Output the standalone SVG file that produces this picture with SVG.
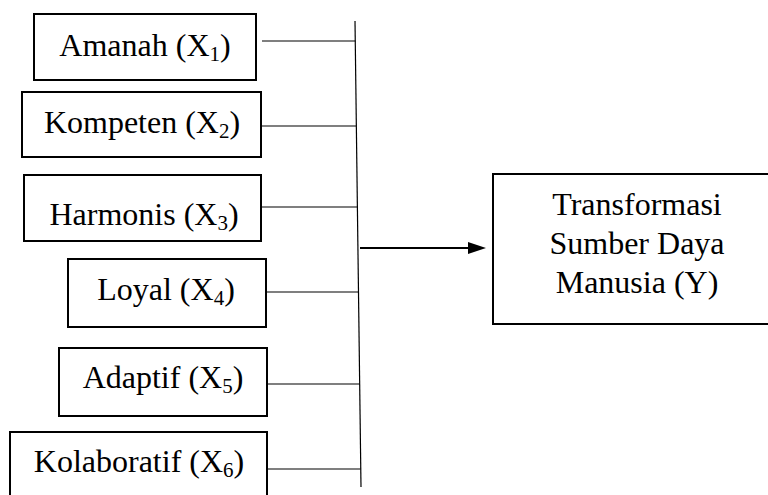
<svg xmlns="http://www.w3.org/2000/svg" width="768" height="495" viewBox="0 0 768 495">
  <defs>
    <style>
      .box { fill: #fff; stroke: #000; stroke-width: 2; }
      .lbl { font-size: 32px; fill: #000; text-anchor: middle; }
      .sub { font-size: 21px; }
      .ln { stroke: #000; stroke-width: 1.2; fill: none; }
    </style>
  </defs>
  <rect width="768" height="495" fill="#fff"/>

  <g id="connectors">
    <line class="ln" x1="355" y1="21" x2="361" y2="487"/>
    <line class="ln" x1="262" y1="41" x2="355.3" y2="41"/>
    <line class="ln" x1="262" y1="126" x2="356.4" y2="126"/>
    <line class="ln" x1="262" y1="207" x2="357.5" y2="207"/>
    <line class="ln" x1="266" y1="292" x2="358.5" y2="292"/>
    <line class="ln" x1="267" y1="384" x2="359.6" y2="384"/>
    <line class="ln" x1="267" y1="469" x2="360.7" y2="469"/>
    <line x1="360" y1="248" x2="468" y2="248" stroke="#000" stroke-width="2"/>
    <path d="M468,242 L486,248 L468,254 Z" fill="#000"/>
  </g>

  <g font-family="'Liberation Serif', 'DejaVu Serif', serif">
  <g id="x1">
    <rect class="box" x="34" y="14" width="222" height="66"/>
    <text class="lbl" x="145" y="56">Amanah (X<tspan class="sub" dy="5">1</tspan><tspan dy="-5">)</tspan></text>
  </g>
  <g id="x2">
    <rect class="box" x="22" y="92" width="239" height="65"/>
    <text class="lbl" x="142" y="133">Kompeten (X<tspan class="sub" dy="5">2</tspan><tspan dy="-5">)</tspan></text>
  </g>
  <g id="x3">
    <rect class="box" x="24" y="175" width="237" height="66"/>
    <text class="lbl" x="144" y="225">Harmonis (X<tspan class="sub" dy="5">3</tspan><tspan dy="-5">)</tspan></text>
  </g>
  <g id="x4">
    <rect class="box" x="68" y="259" width="198" height="68"/>
    <text class="lbl" x="166" y="300">Loyal (X<tspan class="sub" dy="5">4</tspan><tspan dy="-5">)</tspan></text>
  </g>
  <g id="x5">
    <rect class="box" x="59" y="348" width="208" height="68"/>
    <text class="lbl" x="163" y="388">Adaptif (X<tspan class="sub" dy="5">5</tspan><tspan dy="-5">)</tspan></text>
  </g>
  <g id="x6">
    <rect class="box" x="10" y="432" width="257" height="80"/>
    <text class="lbl" x="139" y="472">Kolaboratif (X<tspan class="sub" dy="5">6</tspan><tspan dy="-5">)</tspan></text>
  </g>
  <g id="y">
    <rect class="box" x="493" y="174" width="290" height="150"/>
    <text class="lbl" x="637" y="215">Transformasi</text>
    <text class="lbl" x="637" y="254">Sumber Daya</text>
    <text class="lbl" x="637" y="293">Manusia (Y)</text>
  </g>
  </g>
</svg>
